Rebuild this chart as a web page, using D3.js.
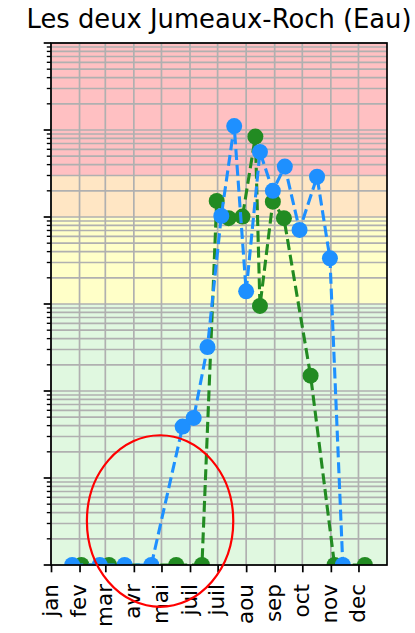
<!DOCTYPE html>
<html>
<head>
<meta charset="utf-8">
<script src="https://cdn.jsdelivr.net/npm/d3@7"></script>
<style>
  html, body { margin: 0; padding: 0; background: #fff; }
  svg { display: block; font-family: "DejaVu Sans", sans-serif; }
</style>
</head>
<body>
<svg id="chart" width="415" height="633"></svg>
<script>
// ---------- data ----------
const title = "Les deux Jumeaux-Roch (Eau)";
const monthLabels = ["jan","fev","mar","avr","mai","juil","juil","aou","sep","oct","nov","dec"];
const year = 2023;

const blueDates  = ["2023-01-24","2023-02-23","2023-03-22","2023-04-20","2023-05-24","2023-06-05","2023-06-20","2023-07-05","2023-07-19","2023-08-01","2023-08-16","2023-08-30","2023-09-12","2023-09-28","2023-10-17","2023-10-31","2023-11-14"];
const blueValues = [0,0,0,0,39,49,320,10300,111000,1400,56000,20000,38000,7100,29000,3350,0];

const greenDates  = ["2023-02-03","2023-03-05","2023-05-17","2023-06-14","2023-06-30","2023-07-13","2023-07-28","2023-08-11","2023-08-16","2023-08-30","2023-09-11","2023-10-10","2023-11-05","2023-12-08"];
const greenValues = [0,0,0,0,15300,9700,10100,84000,950,15000,9700,150,0,0];

// threshold bands (value ranges)
const bandLower  = [1, 1000, 10000, 30000];
const bandUpper  = [1000, 10000, 30000, 1000000];
const bandColors = ["#e0f8e0","#ffffc8","#ffe6c4","#ffc0c2"];

// annotation ellipse (bounding box in data space)
const circleDates  = ["2023-02-09","2023-07-18"];
const circleValues = [0.33, 31];

// ---------- layout ----------
const W = 415, H = 633;
const L = 51, R = 387, T = 43, B = 565;
const yMin = 1, yMax = 1e6;
const parse = d3.utcParse("%Y-%m-%d");

const svg = d3.select("#chart");
const x = d3.scaleUtc().domain([new Date(Date.UTC(year,0,1)), new Date(Date.UTC(year+1,0,1))]).range([L, R]);
const y = d3.scaleLog().domain([yMin, yMax]).range([B, T]);

const gridColor = "#b0b0b0";
const lw = 1.7;

// clip
svg.append("defs").append("clipPath").attr("id","clip")
  .append("rect").attr("x",L).attr("y",T).attr("width",R-L).attr("height",B-T);

// bands
svg.append("g").selectAll("rect").data(bandLower).join("rect")
  .attr("x", L).attr("width", R-L)
  .attr("y", (d,i) => y(bandUpper[i]))
  .attr("height", (d,i) => y(d) - y(bandUpper[i]))
  .attr("fill", (d,i) => bandColors[i]);

// tick values
const majorTicks = d3.range(0, 7).map(k => Math.pow(10, k));
const minorTicks = [];
for (let k = 0; k < 6; k++) for (let m = 2; m <= 9; m++) minorTicks.push(m * Math.pow(10, k));
const monthTicks = d3.range(12).map(m => new Date(Date.UTC(year, m, 1)));

// grid
const grid = svg.append("g").attr("stroke", gridColor).attr("stroke-width", lw);
grid.selectAll(".hg").data(majorTicks.concat(minorTicks)).join("line")
  .attr("x1", L).attr("x2", R).attr("y1", d => y(d)).attr("y2", d => y(d));
grid.selectAll(".vg").data(monthTicks).join("line")
  .attr("y1", T).attr("y2", B).attr("x1", d => x(d)).attr("x2", d => x(d));

// series
function drawSeries(dates, values, color) {
  const pts = dates.map((d,i) => ({d: parse(d), v: Math.max(values[i], yMin)}));
  const g = svg.append("g").attr("clip-path","url(#clip)");
  g.append("path").datum(pts)
    .attr("fill","none").attr("stroke", color).attr("stroke-width", 3.1)
    .attr("stroke-dasharray","11,4.8")
    .attr("d", d3.line().x(p => x(p.d)).y(p => y(p.v)));
  g.selectAll("circle").data(pts).join("circle")
    .attr("cx", p => x(p.d)).attr("cy", p => y(p.v)).attr("r", 8)
    .attr("fill", color);
}
drawSeries(greenDates, greenValues, "#228b22");
drawSeries(blueDates, blueValues, "#1e90ff");

// axes
const xAxis = d3.axisBottom(x).tickValues(monthTicks).tickSize(7.3).tickPadding(7)
  .tickFormat((d,i) => monthLabels[i]);
const gx = svg.append("g").attr("transform", `translate(0,${B})`).call(xAxis);
gx.select(".domain").remove();
gx.selectAll(".tick line").attr("stroke","#000").attr("stroke-width", lw);
gx.selectAll(".tick text")
  .attr("font-size", 21.5).attr("font-family","DejaVu Sans").attr("fill","#000")
  .attr("transform","rotate(-90)")
  .attr("text-anchor","end")
  .attr("x", -19).attr("y", 0).attr("dy","0.28em");

const gy = svg.append("g").attr("transform", `translate(${L},0)`);
gy.selectAll(".maj").data(majorTicks).join("line")
  .attr("x1", -7.3).attr("x2", 0).attr("y1", d => y(d)).attr("y2", d => y(d))
  .attr("stroke","#000").attr("stroke-width", lw);
gy.selectAll(".min").data(minorTicks).join("line")
  .attr("x1", -4.2).attr("x2", 0).attr("y1", d => y(d)).attr("y2", d => y(d))
  .attr("stroke","#000").attr("stroke-width", lw*0.8);

// spines
svg.append("rect").attr("x", L).attr("y", T).attr("width", R-L).attr("height", B-T)
  .attr("fill","none").attr("stroke","#000").attr("stroke-width", lw);

// title
svg.append("text").attr("x", (L+R)/2).attr("y", 28).attr("text-anchor","middle")
  .attr("font-size", 25.8).attr("fill","#000").text(title);

// annotation ellipse
const cx0 = x(parse(circleDates[0])), cx1 = x(parse(circleDates[1]));
const cy0 = y(circleValues[0]), cy1 = y(circleValues[1]);
svg.append("ellipse")
  .attr("cx", (cx0+cx1)/2).attr("cy", (cy0+cy1)/2)
  .attr("rx", Math.abs(cx1-cx0)/2).attr("ry", Math.abs(cy0-cy1)/2)
  .attr("fill","none").attr("stroke","#ff0000").attr("stroke-width", 2.2);
</script>
</body>
</html>
